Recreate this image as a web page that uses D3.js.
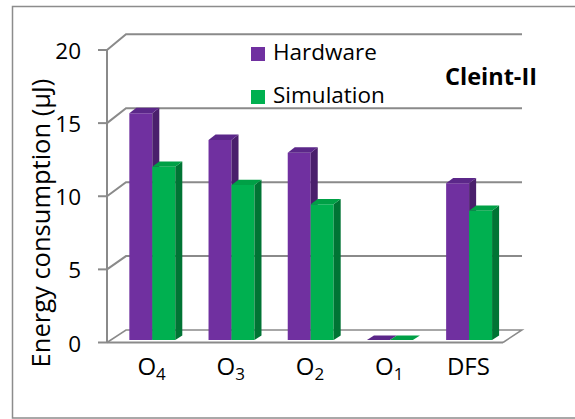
<!DOCTYPE html>
<html>
<head>
<meta charset="utf-8">
<script src="https://cdn.jsdelivr.net/npm/d3@7"></script>
<style>
  html, body { margin: 0; padding: 0; background: #fff; }
  svg { display: block; }
  text { font-family: "Open Sans", Lato, sans-serif; fill: #000; }
</style>
</head>
<body>
<svg id="chart" width="575" height="419"></svg>
<script>
// Energy per configuration (µJ)
const categories = ["O4", "O3", "O2", "O1", "DFS"];
const hardware   = [15.47, 13.65, 12.78, 0, 10.69];
const simulation = [11.82, 10.58, 9.26, 0, 8.82];
const seriesNames = ["Hardware", "Simulation"];
const yTicks = [0, 5, 10, 15, 20];
const chartTitle = "Cleint-II";
const yTitle = "Energy consumption (µJ)";

const colors = {
  Hardware:   { front: "#7030A0", side: "#4A1F6C", top: "#5B2789" },
  Simulation: { front: "#00B050", side: "#007434", top: "#00A046" }
};

const svg = d3.select("#chart");

// Outer frame
svg.append("rect")
  .attr("x", 12.5).attr("y", 6.5).attr("width", 580).attr("height", 411.5)
  .attr("fill", "none").attr("stroke", "#8c8c8c").attr("stroke-width", 1.5);

// Front plane and back wall value scales; depth blends between them
const x = d3.scaleBand().domain(categories).range([107, 503]);
const yFront = d3.scaleLinear().domain([0, 20]).range([342.5, 50]);
const yBack  = d3.scaleLinear().domain([0, 20]).range([330, 34.3]);
const DX = 19;
const P = (px, v, z) => [px + z * DX, (1 - z) * yFront(v) + z * yBack(v)];

const grid = svg.append("g").attr("stroke", "#8a8a8a").attr("fill", "none");

// Back wall gridlines and side wall segments
yTicks.forEach(t => {
  const f = P(107, t, 0), b = P(107, t, 1), e = P(503, t, 1);
  if (t > 0) {
    grid.append("path").attr("stroke-width", 2)
      .attr("d", `M${f[0]},${f[1]}L${b[0]},${b[1]}L${e[0]},${e[1]}`);
  }
});

// Floor
{
  const a = P(107, 0, 0), b = P(503, 0, 0), c = P(503, 0, 1), d = P(107, 0, 1);
  grid.append("path").attr("stroke-width", 1.5)
    .attr("d", `M${a[0]},${a[1]}L${d[0]},${d[1]}L${c[0]},${c[1]}L${b[0]},${b[1]}`);
  grid.append("path").attr("stroke-width", 2.2)
    .attr("d", `M${a[0]},${a[1]}L${b[0]},${b[1]}`);
}

// Value axis line and tick marks
grid.append("line").attr("x1", 107).attr("x2", 107)
  .attr("y1", yFront(20)).attr("y2", yFront(0)).attr("stroke-width", 2);
yTicks.forEach(t => {
  grid.append("line").attr("x1", 98).attr("x2", 107)
    .attr("y1", yFront(t)).attr("y2", yFront(t)).attr("stroke-width", 2);
});

// Tick labels
svg.append("g").selectAll("text").data(yTicks).join("text")
  .attr("x", 81).attr("y", d => yFront(d) + 9)
  .attr("text-anchor", "end").attr("font-size", 22.5)
  .text(d => d);

// 3D columns
const bw = x.bandwidth() * 0.29;
const off = x.bandwidth() * 0.234;
const Z0 = 0.2, Z1 = 0.57;
const bars = svg.append("g");
const poly = pts => "M" + pts.map(p => p.join(",")).join("L") + "Z";

categories.forEach((c, i) => {
  [hardware, simulation].forEach((vals, s) => {
    const v = vals[i];
    const col = colors[seriesNames[s]];
    const x0 = x(c) + off + s * bw, x1 = x0 + bw;
    const g = bars.append("g");
    if (v > 0) {
      g.append("path").attr("fill", col.front)
        .attr("d", poly([P(x0, v, Z0), P(x1, v, Z0), P(x1, 0, Z0), P(x0, 0, Z0)]));
      g.append("path").attr("fill", col.side)
        .attr("d", poly([P(x1, v, Z0), P(x1, v, Z1), P(x1, 0, Z1), P(x1, 0, Z0)]));
    }
    g.append("path").attr("fill", col.top)
      .attr("d", poly([P(x0, v, Z0), P(x1, v, Z0), P(x1, v, Z1), P(x0, v, Z1)]));
  });
});

// Category labels with subscripts
const xl = svg.append("g");
categories.forEach(c => {
  const cx = x(c) + x.bandwidth() / 2 + 5;
  const t = xl.append("text").attr("x", cx).attr("y", 375)
    .attr("text-anchor", "middle").attr("font-size", 24);
  const m = c.match(/^O(\d)$/);
  if (m) {
    t.append("tspan").text("O");
    t.append("tspan").attr("font-size", 17).attr("dy", 4.5).text(m[1]);
  } else {
    t.text(c);
  }
});

// Axis title
svg.append("text")
  .attr("transform", "translate(50,223) rotate(-90)")
  .attr("text-anchor", "middle").attr("font-size", 25.5)
  .text(yTitle);

// Legend
const legend = svg.append("g");
seriesNames.forEach((n, i) => {
  const ly = 47 + i * 43;
  legend.append("rect").attr("x", 251).attr("y", ly).attr("width", 14).attr("height", 14)
    .attr("fill", colors[n].front);
  legend.append("text").attr("x", 273).attr("y", ly + 13).attr("font-size", 22.5).text(n);
});

// Chart title
svg.append("text").attr("x", 445).attr("y", 85)
  .attr("font-size", 23.5).attr("font-weight", "bold").text(chartTitle);
</script>
</body>
</html>
